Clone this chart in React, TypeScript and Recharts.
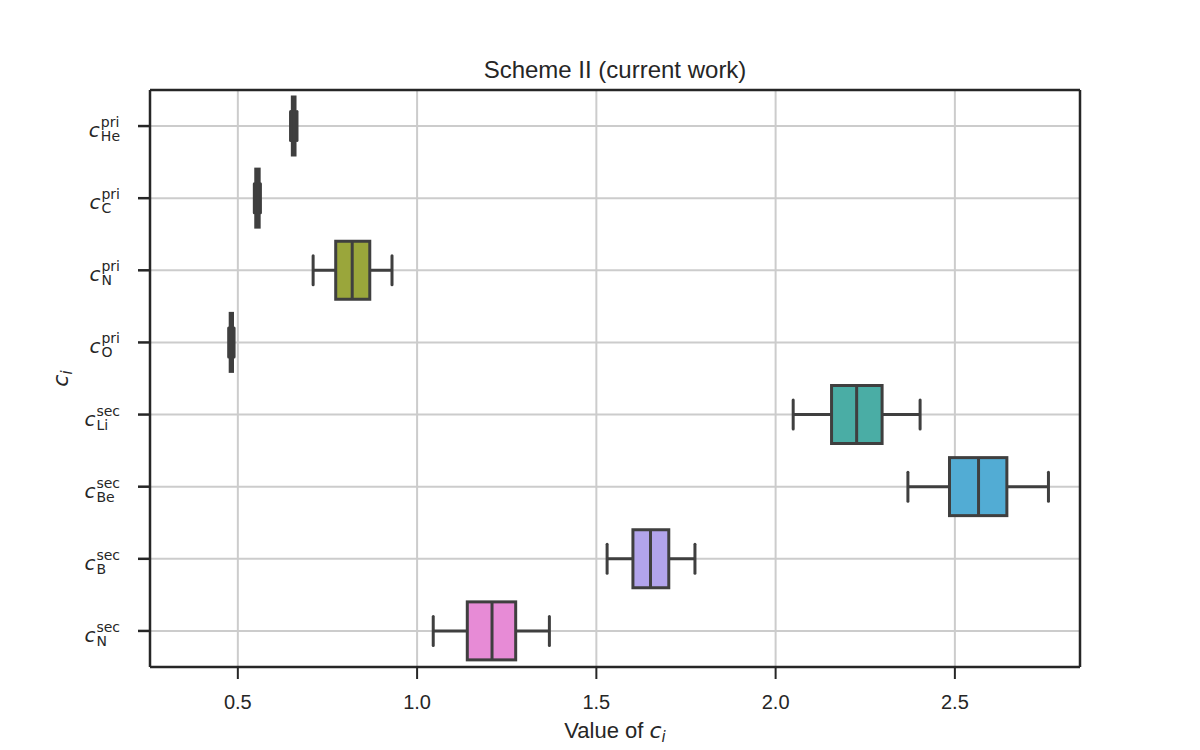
import { ComposedChart, Bar, XAxis, YAxis, CartesianGrid, Label } from 'recharts';

const ELEMENTS = ['He', 'C', 'N', 'O', 'Li', 'Be', 'B', 'N'];
const GROUPS = ['pri', 'pri', 'pri', 'pri', 'sec', 'sec', 'sec', 'sec'];
const MINS = [0.647, 0.546, 0.71, 0.4745, 2.049, 2.369, 1.53, 1.045];
const Q1S = [0.652, 0.55, 0.773, 0.4787, 2.156, 2.485, 1.602, 1.14];
const MEDIANS = [0.656, 0.555, 0.819, 0.482, 2.226, 2.566, 1.651, 1.209];
const Q3S = [0.6595, 0.5595, 0.868, 0.4851, 2.297, 2.645, 1.702, 1.275];
const MAXS = [0.665, 0.563, 0.93, 0.4895, 2.403, 2.761, 1.775, 1.369];
const FILLS = ['#e58a94', '#c8913e', '#9aa63b', '#4aa96a', '#4aada5', '#52acd4', '#b2a4ec', '#e78bd6'];

const X_TICKS = [0.5, 1.0, 1.5, 2.0, 2.5];
const X_DOMAIN = [0.255, 2.849];

const rows = ELEMENTS.map((el, i) => ({
  key: `${el}|${GROUPS[i]}|${i}`,
  range: [MINS[i], MAXS[i]],
  min: MINS[i],
  q1: Q1S[i],
  median: MEDIANS[i],
  q3: Q3S[i],
  max: MAXS[i],
  fill: FILLS[i],
}));

const INK = '#262626';
const EDGE = '#3f3f3f';
const SANS = '"Liberation Sans", Arial, sans-serif';
const MATH = '"DejaVu Sans", sans-serif';

// rough DejaVu Sans advance widths (em), used to right-align the math labels
const CHAR_W: Record<string, number> = {
  p: 0.635, r: 0.411, i: 0.278, s: 0.521, e: 0.615, c: 0.55,
  H: 0.752, L: 0.557, B: 0.686, C: 0.698, N: 0.748, O: 0.787,
};
const textW = (s: string, size: number) =>
  s.split('').reduce((acc, ch) => acc + (CHAR_W[ch] ?? 0.6), 0) * size;

function MathTick(props: any) {
  const { x, y, payload } = props;
  const [el, grp] = String(payload.value).split('|');
  const right = x - 16;
  const w = Math.max(textW(grp, 14), textW(el, 14));
  const start = right - w;
  return (
    <g>
      <text x={start - 12} y={y + 11} fontFamily={MATH} fontStyle="italic" fontSize={20} fill={INK}>c</text>
      <text x={start} y={y + 1} fontFamily={MATH} fontSize={14} fill={INK}>{grp}</text>
      <text x={start} y={y + 15} fontFamily={MATH} fontSize={14} fill={INK}>{el}</text>
    </g>
  );
}

function BoxShape(props: any) {
  const { x, y, width, height, payload } = props;
  const span = payload.max - payload.min;
  const px = (v: number) => x + ((v - payload.min) / span) * width;
  const cy = y + height / 2;
  const capH = height / 2;
  const x1 = px(payload.q1);
  const x3 = px(payload.q3);
  return (
    <g stroke={EDGE} strokeWidth={3}>
      <line x1={px(payload.min)} x2={x1} y1={cy} y2={cy} />
      <line x1={x3} x2={px(payload.max)} y1={cy} y2={cy} />
      <line x1={px(payload.min)} x2={px(payload.min)} y1={cy - capH / 2} y2={cy + capH / 2} strokeLinecap="round" />
      <line x1={px(payload.max)} x2={px(payload.max)} y1={cy - capH / 2} y2={cy + capH / 2} strokeLinecap="round" />
      <rect x={x1} y={y} width={x3 - x1} height={height} fill={payload.fill} />
      <line x1={px(payload.median)} x2={px(payload.median)} y1={y} y2={y + height} />
    </g>
  );
}

export default function App() {
  return (
    <div style={{ position: 'absolute', left: 0, top: 0, background: '#fff' }}>
      <ComposedChart
        width={1200}
        height={750}
        layout="vertical"
        data={rows}
        margin={{ top: 89, right: 119, bottom: 0, left: 0 }}
      >
        <CartesianGrid stroke="#cccccc" strokeWidth={2} />
        <XAxis
          type="number"
          domain={X_DOMAIN}
          allowDataOverflow
          ticks={X_TICKS}
          tickFormatter={(v: number) => v.toFixed(1)}
          height={83}
          tickSize={12}
          tickMargin={16}
          tick={{ fontFamily: SANS, fontSize: 20, fill: INK }}
          tickLine={{ stroke: INK, strokeWidth: 2 }}
          axisLine={{ stroke: INK, strokeWidth: 2.5 }}
        >
          <Label
            content={({ viewBox }: any) => (
              <text x={viewBox.x + viewBox.width / 2} y={viewBox.y + 71} textAnchor="middle" fill={INK} fontSize={22}>
                <tspan fontFamily={SANS}>Value of </tspan>
                <tspan fontFamily={MATH} fontStyle="italic">c</tspan>
                <tspan fontFamily={MATH} fontStyle="italic" fontSize={15} dy={4}>i</tspan>
              </text>
            )}
          />
        </XAxis>
        <XAxis
          xAxisId="top"
          orientation="top"
          type="number"
          domain={X_DOMAIN}
          allowDataOverflow
          height={1}
          tick={false}
          tickLine={false}
          axisLine={{ stroke: INK, strokeWidth: 2.5 }}
        >
          <Label
            content={({ viewBox }: any) => (
              <text x={viewBox.x + viewBox.width / 2} y={viewBox.y + viewBox.height - 12} textAnchor="middle" fontFamily={SANS} fontSize={24} fill={INK}>
                Scheme II (current work)
              </text>
            )}
          />
        </XAxis>
        <YAxis
          type="category"
          dataKey="key"
          width={150}
          tickSize={12}
          tick={<MathTick />}
          tickLine={{ stroke: INK, strokeWidth: 2.5 }}
          axisLine={{ stroke: INK, strokeWidth: 2.5 }}
        >
          <Label
            content={({ viewBox }: any) => {
              const cx = 68;
              const cy = viewBox.y + viewBox.height / 2;
              return (
                <text x={cx} y={cy} transform={`rotate(-90, ${cx}, ${cy})`} textAnchor="middle" fill={INK} fontFamily={MATH} fontStyle="italic" fontSize={22}>
                  c<tspan fontSize={15} dy={4}>i</tspan>
                </text>
              );
            }}
          />
        </YAxis>
        <YAxis
          yAxisId="right"
          orientation="right"
          type="number"
          domain={[0, 1]}
          width={1}
          tick={false}
          tickLine={false}
          axisLine={{ stroke: INK, strokeWidth: 2.5 }}
        />
        <Bar dataKey="range" barSize={58} shape={<BoxShape />} isAnimationActive={false} />
      </ComposedChart>
    </div>
  );
}
